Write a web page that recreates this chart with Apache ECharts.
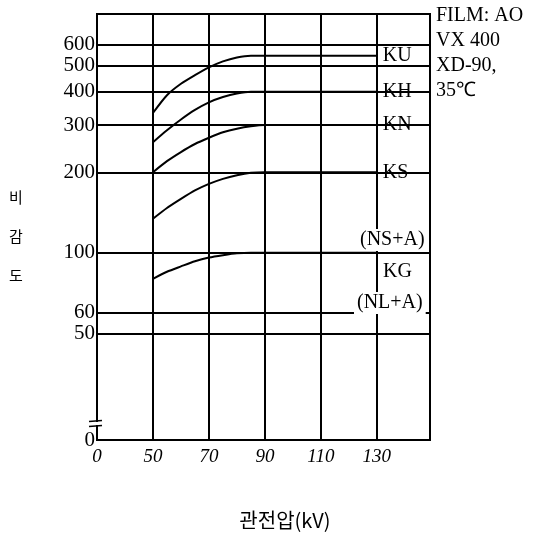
<!DOCTYPE html>
<html>
<head>
<meta charset="utf-8">
<script src="https://cdn.jsdelivr.net/npm/echarts@6/dist/echarts.min.js"></script>
<style>
  html, body { margin: 0; padding: 0; background: #fff; }
  #chart { width: 543px; height: 541px; }
</style>
</head>
<body>
<div id="chart"></div>
<script>
/* Sensitivity vs tube voltage, film AO VX 400 */
const kvTicks = [0, 50, 70, 90, 110, 130];
const voltages = [50, 55, 60, 65, 70, 75, 80, 85, 90, 130];
const KU = [333, 388, 428, 461, 493, 519, 537, 545, 545, 545];
const KH = [259, 287, 315, 342, 365, 382, 394, 400, 400, 400];
const KN = [200, 220, 238, 255, 269, 282, 291, 297, 300, 300];
const KS = [134, 147, 159, 171, 181, 189, 195, 199, 200, 200];
const KG = [80, 85, 89, 93, 96, 98, 99.6, 100, 100, 100];
const gridValues = [600, 500, 400, 300, 200, 100, 60, 50];
const yLabels = [600, 500, 400, 300, 200, 100, 60, 50, 20];

const serif = "'Liberation Serif', 'DejaVu Serif', serif";

// x axis has a break between 0 and 50: each 20 kV step from 50 is one unit
function xPos(kv) {
    return kv < 50 ? kv / 50 : (kv - 30) / 20;
}

function curve(name, values, withLabel) {
    return {
        name: name,
        type: 'line',
        symbol: 'none',
        smooth: 0.25,
        lineStyle: { color: '#000', width: 2 },
        data: voltages.map((v, i) => [xPos(v), values[i]]),
        endLabel: {
            show: withLabel,
            formatter: '{a}',
            color: '#000',
            fontFamily: serif,
            fontSize: 20,
            distance: 5,
            backgroundColor: '#fff',
            padding: [0, 1, 0, 1],
        },
        z: 3,
    };
}

let chart = echarts.init(document.getElementById('chart'));

let kgSeries = curve('KG', KG, false);
kgSeries.markLine = {
    silent: true,
    symbol: 'none',
    label: { show: false },
    lineStyle: { color: '#000', width: 2, type: 'solid' },
    data: gridValues.map(v => ({ yAxis: v })),
    animation: false,
};

let option = {
    animation: false,
    backgroundColor: '#fff',
    grid: {
        left: 97, right: 113, top: 14, bottom: 101,
        show: true, borderColor: '#000', borderWidth: 2,
    },
    xAxis: {
        type: 'value',
        min: 0,
        max: 5.95,
        interval: 1,
        axisLine: { lineStyle: { color: '#000', width: 2 } },
        axisTick: { show: false },
        splitLine: { show: true, lineStyle: { color: '#000', width: 2 } },
        axisLabel: {
            color: '#000',
            fontFamily: serif,
            fontStyle: 'italic',
            fontSize: 19,
            margin: 7,
            formatter: v => (kvTicks[v] !== undefined ? String(kvTicks[v]) : ''),
        },
    },
    yAxis: {
        type: 'log',
        logBase: 10,
        min: 20,
        max: 780,
        axisLine: { show: true, lineStyle: { color: '#000', width: 2 } },
        axisTick: { show: false },
        splitLine: { show: false },
        minorSplitLine: { show: false },
        axisLabel: {
            customValues: yLabels,
            color: '#000',
            fontFamily: serif,
            fontSize: 21,
            margin: 2,
            formatter: v => (v === 20 ? '0' : String(v)),
        },
    },
    graphic: [
        {
            type: 'text', left: 436, top: 3,
            style: {
                text: 'FILM: AO\nVX 400\nXD-90,\n35℃',
                font: "20px 'Liberation Serif', serif",
                fill: '#000', lineHeight: 25,
            },
        },
        {
            type: 'text', left: 9, top: 178,
            style: {
                text: '비\n감\n도',
                font: "15px 'Noto Sans CJK KR', sans-serif",
                fill: '#000', lineHeight: 39,
            },
        },
        {
            type: 'text', x: 285, y: 520,
            style: {
                text: '관전압(kV)',
                font: "20px 'Noto Sans CJK KR', sans-serif",
                fill: '#000', align: 'center', verticalAlign: 'middle',
            },
        },
        {
            type: 'text', left: 357, top: 229, z: 10,
            style: {
                text: '(NS+A)', font: "20px 'Liberation Serif', serif",
                fill: '#000', backgroundColor: '#fff', padding: [1, 3, 1, 3],
            },
        },
        {
            type: 'text', left: 382, top: 261, z: 10,
            style: {
                text: 'KG', font: "20px 'Liberation Serif', serif",
                fill: '#000', backgroundColor: '#fff', padding: [1, 2, 1, 1],
            },
        },
        {
            type: 'text', left: 354, top: 292, z: 10,
            style: {
                text: '(NL+A)', font: "20px 'Liberation Serif', serif",
                fill: '#000', backgroundColor: '#fff', padding: [1, 3, 1, 3],
            },
        },
        // axis break marks
        {
            type: 'rect', z: 10,
            shape: { x: 94, y: 422, width: 6, height: 3 },
            style: { fill: '#fff' },
        },
        {
            type: 'line', z: 11,
            shape: { x1: 89, y1: 421.5, x2: 102, y2: 420.5 },
            style: { stroke: '#000', lineWidth: 1.5 },
        },
        {
            type: 'line', z: 11,
            shape: { x1: 89, y1: 426.5, x2: 102, y2: 425.5 },
            style: { stroke: '#000', lineWidth: 1.5 },
        },
    ],
    series: [
        curve('KU', KU, true),
        curve('KH', KH, true),
        curve('KN', KN, true),
        curve('KS', KS, true),
        kgSeries,
    ],
};

option && chart.setOption(option);

window.addEventListener('resize', () => {
    chart.resize();
});
</script>
</body>
</html>
